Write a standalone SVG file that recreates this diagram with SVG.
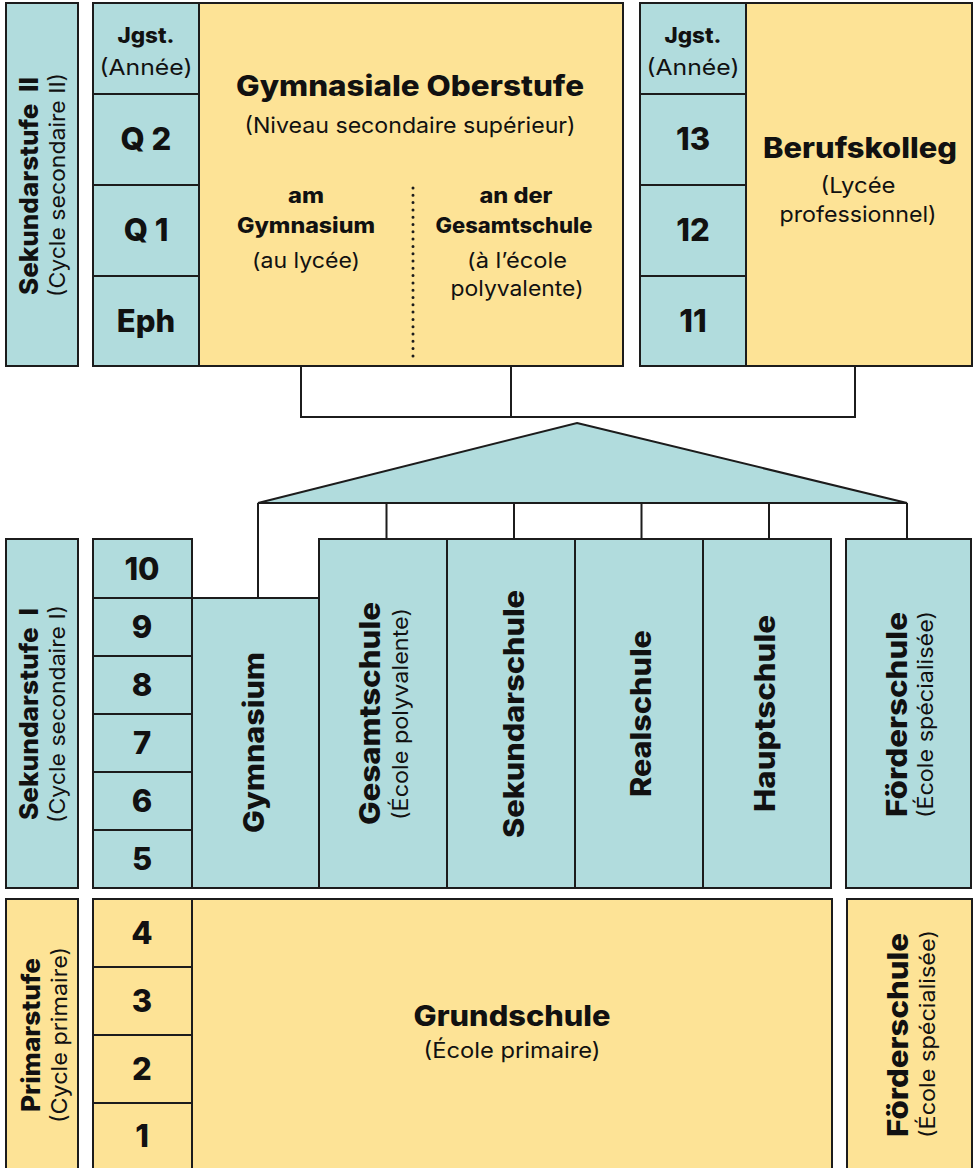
<svg xmlns="http://www.w3.org/2000/svg" width="979" height="1168" viewBox="0 0 979 1168">
<style>
.bg{fill:#ffffff}
.tl{fill:#b1dcdd;stroke:#1c1c1c;stroke-width:2}
.yl{fill:#fde396;stroke:#1c1c1c;stroke-width:2}
.ln{fill:none;stroke:#1c1c1c;stroke-width:2}
.dot{fill:none;stroke:#1c1c1c;stroke-width:3;stroke-linecap:round;stroke-dasharray:0 7.3}
text{fill:#111;font-family:Inter,"Liberation Sans",sans-serif;text-anchor:middle}
.b{font-weight:800}
.r{font-weight:400}
.big{font-size:28px}
.sub{font-size:22px}
.hd{font-size:21px}
.num{font-size:31px}
.vl{font-size:26px}
.vs{font-size:22px}
.sn{font-size:28px}
.ss{font-size:21px}
</style>
<rect class="bg" x="0" y="0" width="979" height="1168"/>

<g id="connectors">
  <path class="ln" d="M301,366 V417 H855 V366 M511,366 V417"/>
  <path class="ln" d="M258,503 V598 M386.5,503 V539 M514,503 V539 M641.5,503 V539 M769,503 V539 M907,503 V539"/>
</g>

<g id="merge-triangle">
  <polygon class="tl" points="577,423 907,503 258,503"/>
</g>

<g id="label-sek2">
  <rect class="tl" x="6" y="3" width="72" height="363"/>
  <text class="b vl" transform="translate(38,186) rotate(-90)" textLength="218" lengthAdjust="spacingAndGlyphs">Sekundarstufe <tspan dx="6">II</tspan></text>
  <text class="r vs" transform="translate(65,185) rotate(-90)" textLength="224" lengthAdjust="spacingAndGlyphs">(Cycle secondaire II)</text>
</g>

<g id="grades-oberstufe">
  <rect class="tl" x="93" y="3" width="106" height="91"/>
  <rect class="tl" x="93" y="94" width="106" height="91"/>
  <rect class="tl" x="93" y="185" width="106" height="91"/>
  <rect class="tl" x="93" y="276" width="106" height="90"/>
  <text class="b hd" x="146" y="43" textLength="57" lengthAdjust="spacingAndGlyphs">Jgst.</text>
  <text class="r sub" x="146" y="75" textLength="93" lengthAdjust="spacingAndGlyphs">(Année)</text>
  <text class="b num" x="146" y="150">Q 2</text>
  <text class="b num" x="146" y="241">Q 1</text>
  <text class="b num" x="146" y="332">Eph</text>
</g>

<g id="gymnasiale-oberstufe">
  <rect class="yl" x="199" y="3" width="424" height="363"/>
  <line class="dot" x1="413" y1="188" x2="413" y2="361"/>
  <text class="b big" x="410" y="96" textLength="348" lengthAdjust="spacingAndGlyphs">Gymnasiale Oberstufe</text>
  <text class="r sub" x="410" y="133" textLength="331" lengthAdjust="spacingAndGlyphs">(Niveau secondaire supérieur)</text>
  <text class="b hd" x="306" y="203" textLength="36" lengthAdjust="spacingAndGlyphs">am</text>
  <text class="b hd" x="306" y="233" textLength="138" lengthAdjust="spacingAndGlyphs">Gymnasium</text>
  <text class="r hd" x="306" y="268" textLength="108" lengthAdjust="spacingAndGlyphs">(au lycée)</text>
  <text class="b hd" x="516" y="203" textLength="73" lengthAdjust="spacingAndGlyphs">an der</text>
  <text class="b hd" x="514" y="233" textLength="157" lengthAdjust="spacingAndGlyphs">Gesamtschule</text>
  <text class="r hd" x="517" y="268" textLength="100" lengthAdjust="spacingAndGlyphs">(à l’école</text>
  <text class="r hd" x="517" y="296" textLength="133" lengthAdjust="spacingAndGlyphs">polyvalente)</text>
</g>

<g id="grades-berufskolleg">
  <rect class="tl" x="640" y="3" width="106" height="91"/>
  <rect class="tl" x="640" y="94" width="106" height="91"/>
  <rect class="tl" x="640" y="185" width="106" height="91"/>
  <rect class="tl" x="640" y="276" width="106" height="90"/>
  <text class="b hd" x="693" y="43" textLength="57" lengthAdjust="spacingAndGlyphs">Jgst.</text>
  <text class="r sub" x="693" y="75" textLength="93" lengthAdjust="spacingAndGlyphs">(Année)</text>
  <text class="b num" x="693" y="150">13</text>
  <text class="b num" x="693" y="241">12</text>
  <text class="b num" x="693" y="332">11</text>
</g>

<g id="berufskolleg">
  <rect class="yl" x="746" y="3" width="226" height="363"/>
  <text class="b big" x="860" y="158" textLength="194" lengthAdjust="spacingAndGlyphs">Berufskolleg</text>
  <text class="r sub" x="858" y="193" textLength="75" lengthAdjust="spacingAndGlyphs">(Lycée</text>
  <text class="r sub" x="858" y="222" textLength="157" lengthAdjust="spacingAndGlyphs">professionnel)</text>
</g>

<g id="label-sek1">
  <rect class="tl" x="6" y="539" width="72" height="349"/>
  <text class="b vl" transform="translate(38,714) rotate(-90)" textLength="212" lengthAdjust="spacingAndGlyphs">Sekundarstufe <tspan dx="6">I</tspan></text>
  <text class="r vs" transform="translate(65,714) rotate(-90)" textLength="218" lengthAdjust="spacingAndGlyphs">(Cycle secondaire I)</text>
</g>

<g id="grades-sek1">
  <rect class="tl" x="93" y="539" width="99" height="59"/>
  <rect class="tl" x="93" y="598" width="99" height="58"/>
  <rect class="tl" x="93" y="656" width="99" height="58"/>
  <rect class="tl" x="93" y="714" width="99" height="58"/>
  <rect class="tl" x="93" y="772" width="99" height="58"/>
  <rect class="tl" x="93" y="830" width="99" height="58"/>
  <text class="b num" x="142" y="580">10</text>
  <text class="b num" x="142" y="638">9</text>
  <text class="b num" x="142" y="696">8</text>
  <text class="b num" x="142" y="754">7</text>
  <text class="b num" x="142" y="812">6</text>
  <text class="b num" x="142" y="870">5</text>
</g>

<g id="gymnasium">
  <rect class="tl" x="192" y="598" width="127" height="290"/>
  <text class="b sn" transform="translate(264,742.5) rotate(-90)" textLength="181" lengthAdjust="spacingAndGlyphs">Gymnasium</text>
</g>

<g id="gesamtschule">
  <rect class="tl" x="319" y="539" width="128" height="349"/>
  <text class="b sn" transform="translate(380,713.5) rotate(-90)" textLength="223" lengthAdjust="spacingAndGlyphs">Gesamtschule</text>
  <text class="r ss" transform="translate(408,714) rotate(-90)" textLength="212" lengthAdjust="spacingAndGlyphs">(École polyvalente)</text>
</g>

<g id="sekundarschule">
  <rect class="tl" x="447" y="539" width="128" height="349"/>
  <text class="b sn" transform="translate(524,714) rotate(-90)" textLength="248" lengthAdjust="spacingAndGlyphs">Sekundarschule</text>
</g>

<g id="realschule">
  <rect class="tl" x="575" y="539" width="128" height="349"/>
  <text class="b sn" transform="translate(651,713.5) rotate(-90)" textLength="167" lengthAdjust="spacingAndGlyphs">Realschule</text>
</g>

<g id="hauptschule">
  <rect class="tl" x="703" y="539" width="128" height="349"/>
  <text class="b sn" transform="translate(775,713.5) rotate(-90)" textLength="197" lengthAdjust="spacingAndGlyphs">Hauptschule</text>
</g>

<g id="foerderschule-sek1">
  <rect class="tl" x="846" y="539" width="125" height="349"/>
  <text class="b sn" transform="translate(907,714.5) rotate(-90)" textLength="205" lengthAdjust="spacingAndGlyphs">Förderschule</text>
  <text class="r ss" transform="translate(933,714.5) rotate(-90)" textLength="207" lengthAdjust="spacingAndGlyphs">(École spécialisée)</text>
</g>

<g id="label-primar">
  <rect class="yl" x="6" y="899" width="72" height="272"/>
  <text class="b vl" transform="translate(40,1035) rotate(-90)" textLength="154" lengthAdjust="spacingAndGlyphs">Primarstufe</text>
  <text class="r vs" transform="translate(67,1035) rotate(-90)" textLength="176" lengthAdjust="spacingAndGlyphs">(Cycle primaire)</text>
</g>

<g id="grades-primar">
  <rect class="yl" x="93" y="899" width="99" height="68"/>
  <rect class="yl" x="93" y="967" width="99" height="68"/>
  <rect class="yl" x="93" y="1035" width="99" height="68"/>
  <rect class="yl" x="93" y="1103" width="99" height="68"/>
  <text class="b num" x="142" y="944">4</text>
  <text class="b num" x="142" y="1012">3</text>
  <text class="b num" x="142" y="1080">2</text>
  <text class="b num" x="142" y="1147">1</text>
</g>

<g id="grundschule">
  <rect class="yl" x="192" y="899" width="640" height="272"/>
  <text class="b big" x="512" y="1026" textLength="197" lengthAdjust="spacingAndGlyphs">Grundschule</text>
  <text class="r sub" x="512" y="1058" textLength="177" lengthAdjust="spacingAndGlyphs">(École primaire)</text>
</g>

<g id="foerderschule-primar">
  <rect class="yl" x="847" y="899" width="125" height="272"/>
  <text class="b sn" transform="translate(908,1035) rotate(-90)" textLength="204" lengthAdjust="spacingAndGlyphs">Förderschule</text>
  <text class="r ss" transform="translate(935,1034) rotate(-90)" textLength="208" lengthAdjust="spacingAndGlyphs">(École spécialisée)</text>
</g>
</svg>
